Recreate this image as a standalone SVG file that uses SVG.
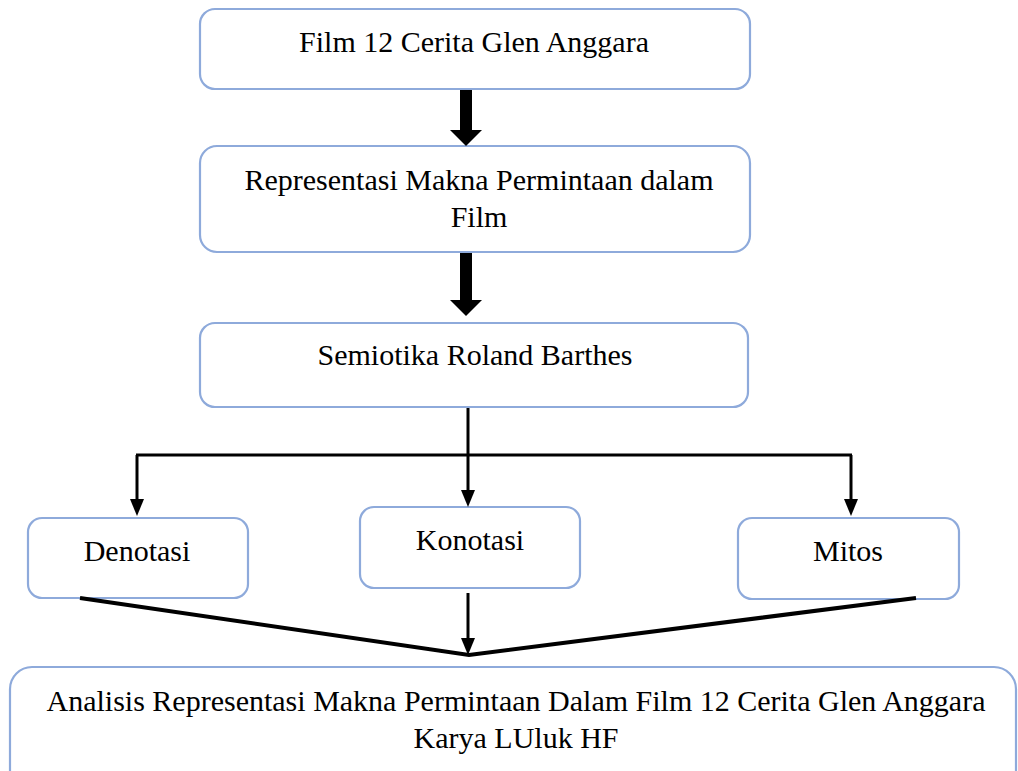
<svg xmlns="http://www.w3.org/2000/svg" width="1018" height="771" viewBox="0 0 1018 771">
<style>
.box{fill:#fff;stroke:#8eaadb;stroke-width:2.2}
.t{font-family:"Liberation Serif","Times New Roman",serif;font-size:30px;fill:#000;text-anchor:middle}
.ln{stroke:#000;fill:none}
</style>
<rect width="1018" height="771" fill="#fff"/>
<g id="n1"><rect class="box" x="200" y="9" width="550" height="80" rx="15"/><text class="t" x="474" y="52">Film 12 Cerita Glen Anggara</text></g>
<g id="n2"><rect class="box" x="200" y="146" width="550" height="106" rx="17"/><text class="t" x="479" y="190">Representasi Makna Permintaan dalam</text><text class="t" x="479" y="227">Film</text></g>
<g id="n3"><rect class="box" x="200" y="323" width="548" height="84" rx="15"/><text class="t" x="475" y="365">Semiotika Roland Barthes</text></g>
<g id="n4"><rect class="box" x="28" y="518" width="220" height="80" rx="14"/><text class="t" x="137" y="561">Denotasi</text></g>
<g id="n5"><rect class="box" x="360" y="507" width="220" height="81" rx="14"/><text class="t" x="470" y="550">Konotasi</text></g>
<g id="n6"><rect class="box" x="738" y="518" width="221" height="81" rx="14"/><text class="t" x="848" y="561">Mitos</text></g>
<g id="n7"><rect class="box" x="10" y="667" width="1006" height="140" rx="22"/><text class="t" x="516" y="711">Analisis Representasi Makna Permintaan Dalam Film 12 Cerita Glen Anggara</text><text class="t" x="516" y="748">Karya LUluk HF</text></g>
<g id="connectors">
<path d="M460,90 H472 V130 H482 L466,146 L450,130 H460 Z" fill="#000"/>
<path d="M460,253 H472 V300 H482 L466,316 L450,300 H460 Z" fill="#000"/>
<path class="ln" stroke-width="3" d="M468,408 V492"/>
<path d="M461,490 L475,490 L468,507 Z" fill="#000"/>
<path class="ln" stroke-width="3.2" d="M136,455 H852"/>
<path class="ln" stroke-width="3" d="M137,455 V500"/>
<path d="M130,499 L144,499 L137,516 Z" fill="#000"/>
<path class="ln" stroke-width="3" d="M851,455 V500"/>
<path d="M844,499 L858,499 L851,516 Z" fill="#000"/>
<path class="ln" stroke-width="4" d="M80,598 L469,655 L916,598"/>
<path class="ln" stroke-width="3" d="M468,593 V640"/>
<path d="M461,638 L475,638 L468,655 Z" fill="#000"/>
</g>
</svg>
